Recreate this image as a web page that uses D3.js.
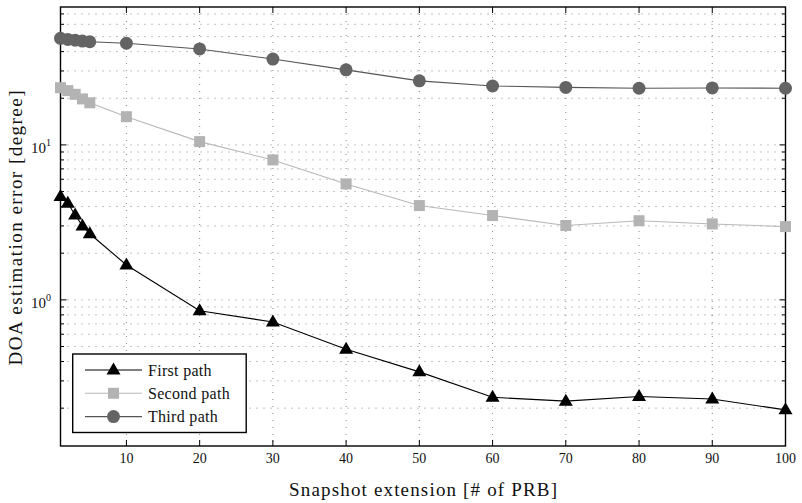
<!DOCTYPE html>
<html>
<head>
<meta charset="utf-8">
<script src="https://cdn.jsdelivr.net/npm/d3@7"></script>
<style>
  html, body { margin: 0; padding: 0; background: #fff; }
  svg { display: block; font-family: "Liberation Serif", "DejaVu Serif", serif; }
</style>
</head>
<body>
<svg id="chart" width="802" height="503"></svg>
<script>
// Snapshot extension (number of PRBs)
const snapshots = [1, 2, 3, 4, 5, 10, 20, 30, 40, 50, 60, 70, 80, 90, 100];
// DOA estimation error in degrees, per path
const firstPath  = [4.64, 4.2, 3.53, 3.0, 2.67, 1.68, 0.85, 0.72, 0.48, 0.343, 0.235, 0.222, 0.238, 0.229, 0.195];
const secondPath = [23.4, 22.4, 21.2, 19.8, 18.7, 15.2, 10.5, 8.0, 5.6, 4.06, 3.5, 3.02, 3.24, 3.09, 2.97];
const thirdPath  = [48.7, 47.9, 47.4, 46.8, 46.3, 45.3, 41.6, 35.8, 30.5, 25.9, 24.0, 23.5, 23.2, 23.3, 23.2];
const xTicks = [10, 20, 30, 40, 50, 60, 70, 80, 90, 100];
const seriesNames = ["First path", "Second path", "Third path"];

const svg = d3.select("#chart");
const L = 60.5, R = 785.5, T = 7, B = 446;
const ink = "#111";

const x = d3.scaleLinear().domain([1, 100]).range([L, R]);
const y = d3.scaleLog().domain([0.114, 77.6]).range([B, T]);

// all decade subdivisions inside the y domain
const yMinor = [];
for (const d of [0.1, 1, 10]) for (let k = 1; k <= 9; k++) {
  const v = +(d * k).toPrecision(3);
  if (v >= 0.114 && v <= 77.6) yMinor.push(v);
}
const yMajor = [1, 10];

// dotted grid
const grid = svg.append("g").attr("stroke", "#7a7a7a").attr("stroke-width", 0.9)
  .attr("stroke-dasharray", "1,6");
grid.selectAll("line.h").data(yMinor).join("line").attr("class", "h")
  .attr("x1", L).attr("x2", R).attr("y1", d => y(d)).attr("y2", d => y(d));
grid.selectAll("line.v").data(xTicks.filter(d => d < 100)).join("line").attr("class", "v")
  .attr("y1", T).attr("y2", B).attr("x1", d => x(d)).attr("x2", d => x(d));

// ticks (inward, on all four sides)
const ticks = svg.append("g").attr("stroke", "#000").attr("stroke-width", 1);
ticks.selectAll("line.xb").data(xTicks).join("line").attr("class", "xb")
  .attr("x1", d => x(d)).attr("x2", d => x(d)).attr("y1", B).attr("y2", B - 6);
ticks.selectAll("line.xt").data(xTicks).join("line").attr("class", "xt")
  .attr("x1", d => x(d)).attr("x2", d => x(d)).attr("y1", T).attr("y2", T + 6);
ticks.selectAll("line.yl").data(yMinor).join("line").attr("class", "yl")
  .attr("x1", L).attr("x2", d => L + (yMajor.includes(d) ? 6 : 3.5))
  .attr("y1", d => y(d)).attr("y2", d => y(d));
ticks.selectAll("line.yr").data(yMinor).join("line").attr("class", "yr")
  .attr("x1", R).attr("x2", d => R - (yMajor.includes(d) ? 6 : 3.5))
  .attr("y1", d => y(d)).attr("y2", d => y(d));

// frame
svg.append("rect").attr("x", L).attr("y", T).attr("width", R - L).attr("height", B - T)
  .attr("fill", "none").attr("stroke", "#000").attr("stroke-width", 1.4);

// x tick labels
svg.append("g").selectAll("text").data(xTicks).join("text")
  .attr("x", d => x(d)).attr("y", B + 17).attr("text-anchor", "middle")
  .attr("font-size", 14).attr("fill", ink).text(d => d);

// y tick labels 10^0, 10^1
const yl = svg.append("g").selectAll("text").data(yMajor).join("text")
  .attr("x", 51).attr("y", d => y(d) + 8).attr("text-anchor", "end")
  .attr("font-size", 15).attr("fill", ink);
yl.append("tspan").text("10");
yl.append("tspan").attr("font-size", 10).attr("dy", -7).text(d => Math.round(Math.log10(d)));

// axis titles
svg.append("text").attr("x", (L + R) / 2).attr("y", 496).attr("text-anchor", "middle")
  .attr("font-size", 19).attr("fill", ink)
  .attr("textLength", 268).attr("lengthAdjust", "spacing")
  .text("Snapshot extension [# of PRB]");
svg.append("text").attr("transform", `translate(22,228) rotate(-90)`)
  .attr("text-anchor", "middle").attr("font-size", 19).attr("fill", ink)
  .attr("textLength", 275).attr("lengthAdjust", "spacing")
  .text("DOA estimation error [degree]");

// series styling
const styles = [
  { data: firstPath,  line: "#000",    fill: "#000",    shape: "tri" },
  { data: secondPath, line: "#b8b8b8", fill: "#b3b3b3", shape: "sq"  },
  { data: thirdPath,  line: "#555",    fill: "#646464", shape: "circ" }
];

function drawMarker(g, shape, fill) {
  if (shape === "tri") {
    g.append("path").attr("d", "M0,-7.5 L7,4.5 L-7,4.5 Z").attr("fill", fill);
  } else if (shape === "sq") {
    g.append("rect").attr("x", -5.5).attr("y", -5.5).attr("width", 11).attr("height", 11).attr("fill", fill);
  } else {
    g.append("circle").attr("r", 6.5).attr("fill", fill);
  }
}

const lineGen = d3.line().x((d, i) => x(snapshots[i])).y(d => y(d));

styles.forEach(s => {
  svg.append("path").datum(s.data).attr("d", lineGen)
    .attr("fill", "none").attr("stroke", s.line).attr("stroke-width", 1.1);
  s.data.forEach((v, i) => {
    const g = svg.append("g").attr("transform", `translate(${x(snapshots[i])},${y(v)})`);
    drawMarker(g, s.shape, s.fill);
  });
});

// legend
const lg = svg.append("g");
lg.append("rect").attr("x", 72.7).attr("y", 354).attr("width", 173.5).attr("height", 78.5)
  .attr("fill", "#fff").attr("stroke", "#000").attr("stroke-width", 1.4);
styles.forEach((s, i) => {
  const yy = 370 + i * 23.3;
  lg.append("line").attr("x1", 85).attr("x2", 142).attr("y1", yy).attr("y2", yy)
    .attr("stroke", s.line).attr("stroke-width", 1.1);
  const g = lg.append("g").attr("transform", `translate(113.5,${yy})`);
  drawMarker(g, s.shape, s.fill);
  lg.append("text").attr("x", 148).attr("y", yy + 5.5).attr("font-size", 16)
    .attr("letter-spacing", 0.3).attr("fill", ink)
    .text(seriesNames[i]);
});
</script>
</body>
</html>
